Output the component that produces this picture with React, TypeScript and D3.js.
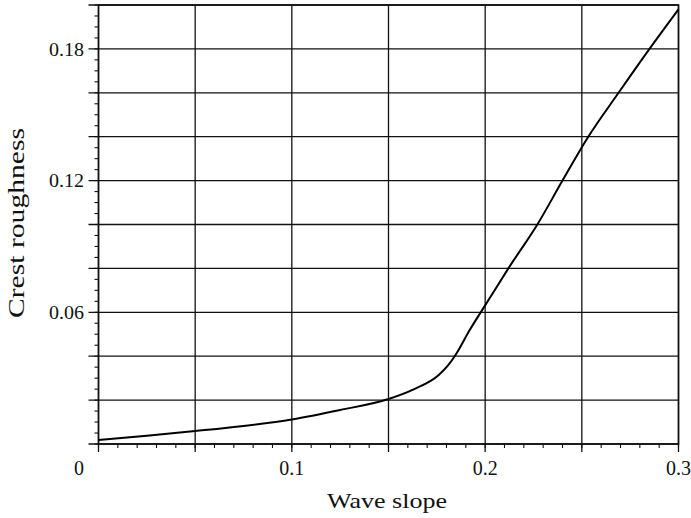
import React from "react";
import * as d3 from "d3";

// Crest roughness as a function of wave slope
const waveSlope = [0, 0.025, 0.05, 0.075, 0.1, 0.125, 0.15, 0.163, 0.176, 0.181, 0.185, 0.192, 0.199, 0.205, 0.212, 0.227, 0.24, 0.253, 0.269, 0.285, 0.3];
const crestRoughness = [0.0018, 0.0038, 0.0059, 0.0082, 0.0112, 0.0155, 0.0205, 0.0249, 0.0314, 0.036, 0.041, 0.0519, 0.0618, 0.0702, 0.08, 0.1, 0.12, 0.1395, 0.16, 0.18, 0.198];

const xLabels = ["0", "0.1", "0.2", "0.3"];
const xLabelValues = [0, 0.1, 0.2, 0.3];
const yLabels = ["0.06", "0.12", "0.18"];
const yLabelValues = [0.06, 0.12, 0.18];

const W = 691;
const H = 518;
const left = 98.5;
const right = 678.5;
const top = 5;
const bottom = 444;
const font = "'Liberation Serif', 'Times New Roman', serif";

export default function App() {
  const x = d3.scaleLinear().domain([0, 0.3]).range([left, right]);
  const y = d3.scaleLinear().domain([0, 0.2]).range([bottom, top]);

  const xGrid = d3.range(0, 0.3001, 0.05);
  const yGrid = d3.range(0, 0.2001, 0.02);
  const xMinor = d3.range(0, 0.3001, 0.01);
  const yMinor = d3.range(0, 0.2001, 0.005);

  const pts: [number, number][] = waveSlope.map((v, i) => [v, crestRoughness[i]]);
  const line = d3
    .line<[number, number]>()
    .x((d) => x(d[0]))
    .y((d) => y(d[1]))
    .curve(d3.curveMonotoneX);

  return (
    <svg width={W} height={H} style={{ position: "absolute", left: 0, top: 0, background: "#fff" }}>
      <rect x={0} y={0} width={W} height={H} fill="#fff" />
      {/* grid lines extend slightly past the left and bottom axes */}
      {xGrid.map((v, i) => (
        <line key={"xg" + i} x1={x(v)} x2={x(v)} y1={top} y2={bottom + 8} stroke="#111" strokeWidth={1.3} />
      ))}
      {yGrid.map((v, i) => (
        <line key={"yg" + i} x1={left - 10} x2={right} y1={y(v)} y2={y(v)} stroke="#111" strokeWidth={1.3} />
      ))}
      {xMinor.map((v, i) => (
        <line key={"xm" + i} x1={x(v)} x2={x(v)} y1={bottom} y2={bottom + 4} stroke="#111" strokeWidth={1.1} />
      ))}
      {yMinor.map((v, i) => (
        <line key={"ym" + i} x1={left - 4} x2={left} y1={y(v)} y2={y(v)} stroke="#111" strokeWidth={1.1} />
      ))}
      <rect x={left} y={top} width={right - left} height={bottom - top} fill="none" stroke="#111" strokeWidth={1.6} />
      <path d={line(pts) || ""} fill="none" stroke="#000" strokeWidth={2} />
      {yLabels.map((t, i) => (
        <text key={"yl" + i} x={84} y={y(yLabelValues[i])} dy="0.35em" textAnchor="end" fontFamily={font} fontSize={19} textLength={35} lengthAdjust="spacingAndGlyphs" fill="#111">
          {t}
        </text>
      ))}
      {xLabels.map((t, i) => (
        <text
          key={"xl" + i}
          x={xLabelValues[i] === 0 ? 79 : x(xLabelValues[i])}
          y={475}
          textAnchor="middle"
          fontFamily={font}
          fontSize={20}
          fill="#111"
        >
          {t}
        </text>
      ))}
      <text x={387} y={508} textAnchor="middle" fontFamily={font} fontSize={22} textLength={120} lengthAdjust="spacingAndGlyphs" fill="#111">
        Wave slope
      </text>
      <text transform="translate(23.5,223) rotate(-90)" textAnchor="middle" fontFamily={font} fontSize={23} textLength={190} lengthAdjust="spacingAndGlyphs" fill="#111">
        Crest roughness
      </text>
    </svg>
  );
}
